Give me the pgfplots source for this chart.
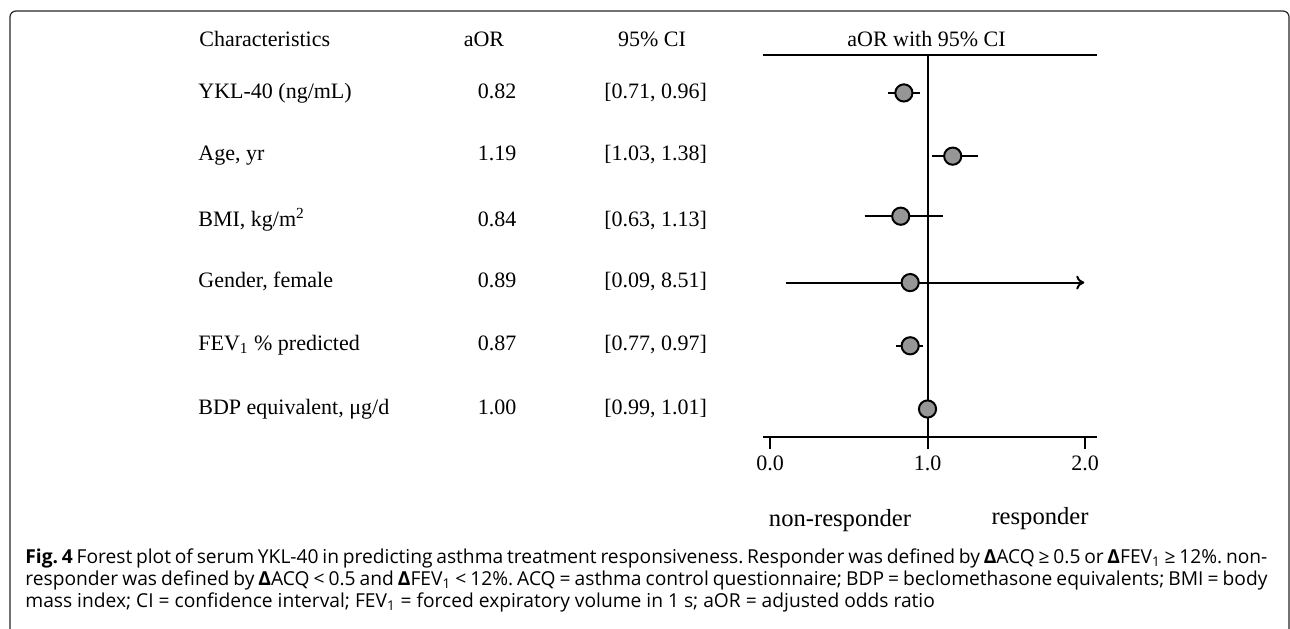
\documentclass[border=0pt]{standalone}
\usepackage{pgfplots}
\pgfplotsset{compat=1.18}
\usepackage{fontspec}
\setmainfont{Liberation Serif}
\newfontfamily\capfont{Open Sans}
\usetikzlibrary{arrows.meta}
\definecolor{markgray}{RGB}{150,150,150}
\frenchspacing
\begin{document}
\begin{tikzpicture}
\useasboundingbox (0,0) rectangle (645pt,-314pt);
\draw[line width=0.6pt, black!85, rounded corners=3pt] (5pt,-5.5pt) rectangle (644.5pt,-320pt);
\begin{axis}[
  at={(381.5pt,-27.5pt)}, anchor=north west,
  scale only axis, width=167pt, height=191pt,
  xmin=-0.0444, xmax=2.076, ymin=0.557, ymax=6.60,
  axis x line=box, axis y line=none,
  xtick={0,1,2}, xticklabels={0.0,1.0,2.0}, xtick pos=bottom,
  ytick=\empty,
  tick align=outside, major tick length=6pt,
  every tick/.style={black, line width=1pt},
  axis line style={line width=1pt, black},
  ticklabel style={font=\fontsize{11}{13}\selectfont},
  clip=false,
]
\addplot[black, line width=1pt] coordinates {(1,0.557) (1,6.6)};
\addplot[black, line width=1pt] coordinates {(0.75,6) (0.95,6)};
\addplot[black, line width=1pt] coordinates {(1.03,5) (1.32,5)};
\addplot[black, line width=1pt] coordinates {(0.60,4.05) (1.10,4.05)};
\addplot[black, line width=1pt, -{To[length=4pt,width=7pt]}] coordinates {(0.10,3) (1.995,3)};
\addplot[black, line width=1pt] coordinates {(0.80,2) (0.97,2)};
\addplot[black, line width=1pt] coordinates {(0.99,1) (1.01,1)};
\addplot[only marks, mark=*, mark size=4.3pt, mark options={fill=markgray, draw=black, line width=1pt}]
  coordinates {(0.85,6) (1.16,5) (0.83,4.05) (0.89,3) (0.89,2) (1.0,1)};
\end{axis}
\begin{scope}[x=0.5pt, y=-0.5pt, every node/.append style={inner sep=0pt, font=\fontsize{11}{13}\selectfont}]
\node[anchor=base west] at (199,46) {Characteristics};
\node[anchor=base] at (484,46) {aOR};
\node[anchor=base] at (652,46) {95\% CI};
\node[anchor=base] at (926.5,46) {aOR with 95\% CI};
\node[anchor=base west] at (198,98) {YKL-40 (ng/mL)};
\node[anchor=base] at (497,98) {0.82};
\node[anchor=base west] at (604,98) {[0.71, 0.96]};
\node[anchor=base west] at (198,160) {Age, yr};
\node[anchor=base] at (497,160) {1.19};
\node[anchor=base west] at (604,160) {[1.03, 1.38]};
\node[anchor=base west] at (198,226) {BMI, kg/m\textsuperscript{2}};
\node[anchor=base] at (497,226) {0.84};
\node[anchor=base west] at (604,226) {[0.63, 1.13]};
\node[anchor=base west] at (198,287) {Gender, female};
\node[anchor=base] at (497,287) {0.89};
\node[anchor=base west] at (604,287) {[0.09, 8.51]};
\node[anchor=base west] at (198,350) {FEV\textsubscript{1} \% predicted};
\node[anchor=base] at (497,350) {0.87};
\node[anchor=base west] at (604,350) {[0.77, 0.97]};
\node[anchor=base west] at (198,414) {BDP equivalent, μg/d};
\node[anchor=base] at (497,414) {1.00};
\node[anchor=base west] at (604,414) {[0.99, 1.01]};
\node[anchor=base, font=\fontsize{12.3}{14}\selectfont] at (840,526) {non-responder};
\node[anchor=base, font=\fontsize{12.3}{14}\selectfont] at (1040,524) {responder};
\node[anchor=base west, font=\capfont\fontsize{9.6}{12}\selectfont] at (25,563)
  {\makebox[621pt][s]{{\bfseries Fig. 4} Forest plot of serum YKL-40 in predicting asthma treatment responsiveness. Responder was defined by {\bfseries Δ}ACQ ≥ 0.5 or {\bfseries Δ}FEV\textsubscript{1} ≥ 12\%. non-}};
\node[anchor=base west, font=\capfont\fontsize{9.6}{12}\selectfont] at (25,585)
  {\makebox[621pt][s]{responder was defined by {\bfseries Δ}ACQ < 0.5 and {\bfseries Δ}FEV\textsubscript{1} < 12\%. ACQ = asthma control questionnaire; BDP = beclomethasone equivalents; BMI = body}};
\node[anchor=base west, font=\capfont\fontsize{9.6}{12}\selectfont] at (25,607)
  {mass index; CI = confidence interval; FEV\textsubscript{1} = forced expiratory volume in 1 s; aOR = adjusted odds ratio};
\end{scope}
\end{tikzpicture}
\end{document}
